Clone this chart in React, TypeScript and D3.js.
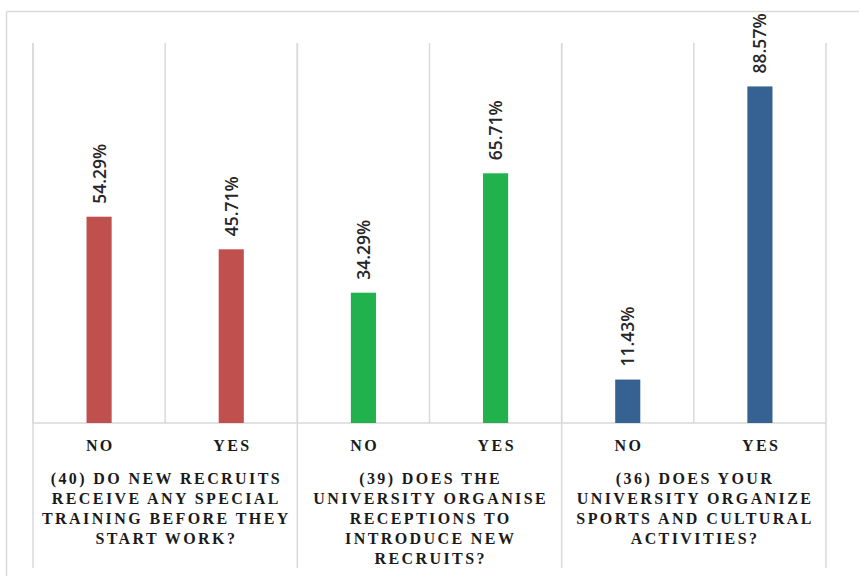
import React from "react";
import * as d3 from "d3";

const categories = ["NO", "YES", "NO", "YES", "NO", "YES"];
const groups = [0, 0, 1, 1, 2, 2];
const values = [54.29, 45.71, 34.29, 65.71, 11.43, 88.57];
const groupColors = ["#C0504D", "#21B14D", "#366293"];
const groupLabels = [
  ["(40) DO NEW RECRUITS", "RECEIVE ANY SPECIAL", "TRAINING BEFORE THEY", "START WORK?"],
  ["(39) DOES THE", "UNIVERSITY ORGANISE", "RECEPTIONS TO", "INTRODUCE NEW", "RECRUITS?"],
  ["(36) DOES YOUR", "UNIVERSITY ORGANIZE", "SPORTS AND CULTURAL", "ACTIVITIES?"],
];

const W = 859;
const H = 576;
const plotLeft = 33;
const plotRight = 826;
const plotTop = 43;
const baseline = 423;
const grid = "#D9D9D9";
const serif = "'Liberation Serif', 'DejaVu Serif', serif";
const sans = "'Open Sans', 'Noto Sans', sans-serif";
const LS = 2.4;

export default function App() {
  const idx = categories.map((_, i) => i);
  const x = d3.scaleBand<number>().domain(idx).range([plotLeft, plotRight]).paddingInner(0).paddingOuter(0);
  const y = d3.scaleLinear().domain([0, 100]).range([baseline, plotTop]);
  const bw = x.bandwidth() * 0.19;
  const groupIdx = [0, 1, 2];
  const gx = (g: number) => {
    const members = idx.filter((i) => groups[i] === g);
    const start = x(members[0])!;
    const end = x(members[members.length - 1])! + x.bandwidth();
    return { start, end, mid: (start + end) / 2 };
  };
  const boundaries = Array.from(new Set(groupIdx.flatMap((g) => [gx(g).start, gx(g).end])));
  return (
    <svg width={W} height={H} style={{ position: "absolute", left: 0, top: 0, background: "#fff" }}>
      <line x1={6.5} x2={6.5} y1={11.5} y2={H} stroke={grid} strokeWidth={1.5} />
      <line x1={6.5} x2={W} y1={11.5} y2={11.5} stroke={grid} strokeWidth={1.5} />
      {idx.map((i) => (
        <line key={"c" + i} x1={x(i)!} x2={x(i)!} y1={plotTop} y2={baseline} stroke={grid} strokeWidth={1.5} />
      ))}
      {boundaries.map((b, i) => (
        <line key={"b" + i} x1={b} x2={b} y1={plotTop} y2={568} stroke={grid} strokeWidth={1.5} />
      ))}
      <line x1={plotLeft} x2={plotRight} y1={baseline} y2={baseline} stroke={grid} strokeWidth={1.5} />
      {idx.map((i) => {
        const cx = x(i)! + x.bandwidth() / 2;
        return (
          <g key={"bar" + i}>
            <rect x={cx - bw / 2} y={y(values[i])} width={bw} height={baseline - y(values[i])} fill={groupColors[groups[i]]} />
            <text
              transform={`translate(${cx + 6.5},${y(values[i]) - 13}) rotate(-90)`}
              fontFamily={sans}
              fontSize={17.5}
              fontWeight={600}
              fill="#262626"
            >
              {values[i].toFixed(2) + "%"}
            </text>
          </g>
        );
      })}
      {idx.map((i) => (
        <text
          key={"t" + i}
          x={x(i)! + x.bandwidth() / 2 + LS / 2}
          y={451}
          textAnchor="middle"
          fontFamily={serif}
          fontWeight="bold"
          fontSize={16}
          letterSpacing={LS}
          fill="#1a1a1a"
        >
          {categories[i]}
        </text>
      ))}
      {groupIdx.map((g) =>
        groupLabels[g].map((line, j) => (
          <text
            key={"g" + g + "-" + j}
            x={gx(g).mid + LS / 2}
            y={484 + j * 20}
            textAnchor="middle"
            fontFamily={serif}
            fontWeight="bold"
            fontSize={16}
            letterSpacing={LS}
            fill="#1a1a1a"
          >
            {line}
          </text>
        ))
      )}
    </svg>
  );
}
